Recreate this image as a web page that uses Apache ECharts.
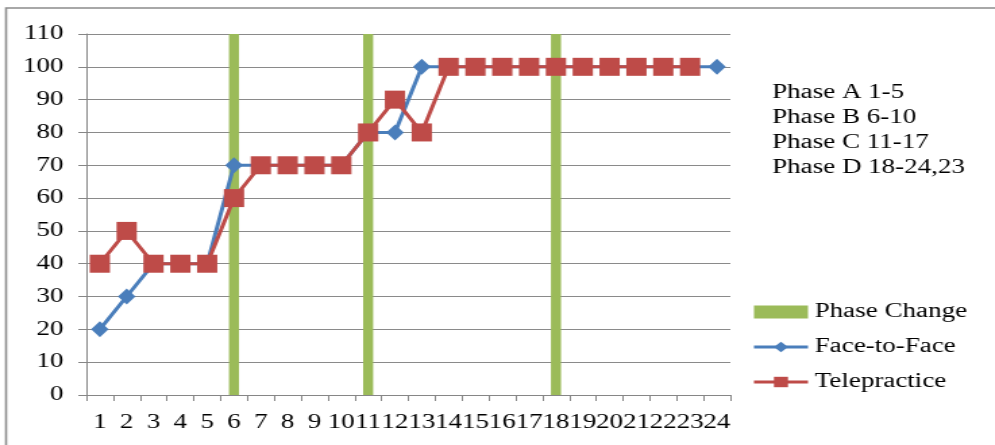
<!DOCTYPE html>
<html><head><meta charset="utf-8">
<script src="https://cdn.jsdelivr.net/npm/echarts@6/dist/echarts.min.js"></script>
<style>
html,body{margin:0;padding:0;background:#fff;overflow:hidden;width:995px;height:445px}
#c{width:737px;height:445px;transform:scaleX(1.35);transform-origin:0 0}
</style>
</head><body><div id="c"></div>
<script>
var categories = ['1','2','3','4','5','6','7','8','9','10','11','12','13','14','15','16','17','18','19','20','21','22','23','24'];
var phaseChange = [null,null,null,null,null,110,null,null,null,null,110,null,null,null,null,null,null,110,null,null,null,null,null,null];
var faceToFace = [20,30,40,40,40,70,70,70,70,70,80,80,100,100,100,100,100,100,100,100,100,100,100,100];
var telepractice = [40,50,40,40,40,60,70,70,70,70,80,90,80,100,100,100,100,100,100,100,100,100,100,null];
var phaseNotes = ['Phase A 1-5','Phase B 6-10','Phase C 11-17','Phase D 18-24,23'];
var yMin = 0, yMax = 110, yStep = 10;

var serif = '"Liberation Serif", "DejaVu Serif", serif';
var chart = echarts.init(document.getElementById('c'));
chart.setOption({
  animation: false,
  backgroundColor: '#fff',
  grid: {left: 64, right: 196, top: 34, bottom: 50, containLabel: false},
  graphic: [
    {type: 'rect', shape: {x: 4.5, y: 8, width: 1000, height: 600}, style: {fill: 'none', stroke: '#8c8c8c', lineWidth: 1.6}, z: -1},
    {type: 'text', left: 572, top: 80, style: {text: phaseNotes.join('\n'), font: '20px ' + serif, fill: '#000', lineHeight: 25}}
  ],
  legend: {
    orient: 'vertical', left: 557, top: 302, padding: 0, itemGap: 15, itemWidth: 40, itemHeight: 13,
    textStyle: {fontFamily: serif, fontSize: 20, color: '#000', padding: [0,0,0,0]},
    data: [
      {name: 'Phase Change', icon: 'rect', itemStyle: {color: '#9BBB59'}},
      {name: 'Face-to-Face', lineStyle: {width: 3}},
      {name: 'Telepractice', lineStyle: {width: 3}}
    ]
  },
  xAxis: {
    type: 'category', data: categories, boundaryGap: true,
    axisLine: {lineStyle: {color: '#868686', width: 1}},
    axisTick: {show: true, alignWithLabel: false, length: 6, lineStyle: {color: '#868686'}},
    axisLabel: {interval: 0, hideOverlap: false, margin: 18, fontFamily: serif, fontSize: 20, color: '#000'},
    splitLine: {show: false}
  },
  yAxis: {
    type: 'value', min: yMin, max: yMax, interval: yStep,
    axisLine: {show: true, lineStyle: {color: '#868686'}},
    axisTick: {show: true, length: 6, lineStyle: {color: '#868686'}},
    axisLabel: {margin: 17, fontFamily: serif, fontSize: 20, color: '#000'},
    splitLine: {lineStyle: {color: '#8a8a8a', width: 1}}
  },
  series: [
    {name: 'Phase Change', type: 'bar', data: phaseChange, barWidth: 7.4, itemStyle: {color: '#9BBB59'}, z: 1},
    {name: 'Face-to-Face', type: 'line', data: faceToFace, symbol: 'diamond', symbolSize: [13, 16],
     lineStyle: {color: '#4A7EBB', width: 3}, itemStyle: {color: '#4A7EBB'}, z: 3},
    {name: 'Telepractice', type: 'line', data: telepractice, symbol: 'rect', symbolSize: [15, 18],
     lineStyle: {color: '#BE4B48', width: 3}, itemStyle: {color: '#BE4B48'}, z: 4}
  ]
});
</script></body></html>
